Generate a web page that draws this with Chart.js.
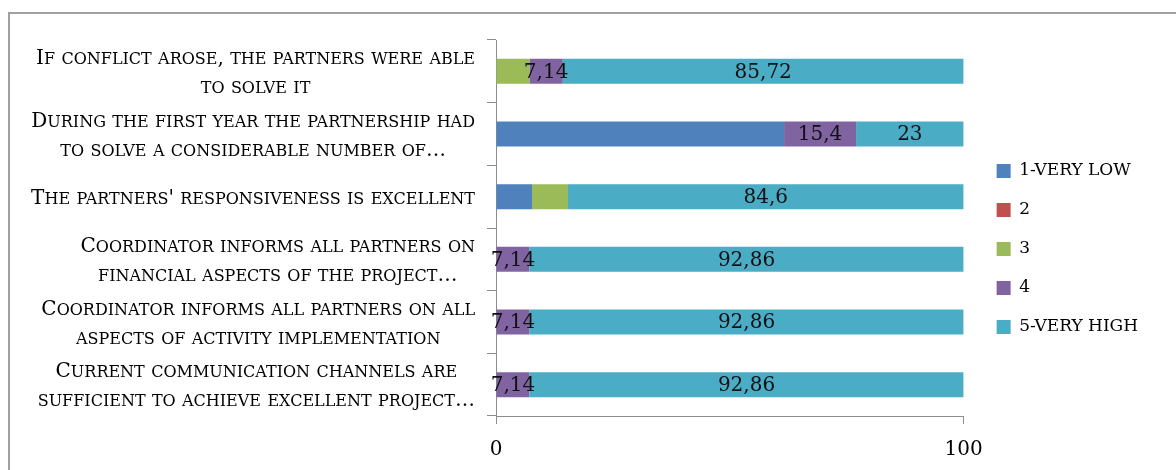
<!DOCTYPE html>
<html>
<head>
<meta charset="utf-8">
<script src="https://cdn.jsdelivr.net/npm/chart.js@4.4.1/dist/chart.umd.min.js"></script>
<style>
  html, body { margin: 0; padding: 0; background: #fff; }
</style>
</head>
<body>
<canvas id="likertChart" width="1176" height="470"></canvas>
<script>
// category labels, already split into the lines shown in the picture
const categories = [
  ['If conflict arose, the partners were able', 'to solve it'],
  ['During the first year the partnership had', 'to solve a considerable number of\u2026'],
  ["The partners' responsiveness is excellent"],
  ['Coordinator informs all partners on', 'financial aspects of the project\u2026'],
  ['Coordinator informs all partners on all', 'aspects of activity implementation'],
  ['Current communication channels are', 'sufficient to achieve excellent project\u2026']
];
const seriesNames = ['1-very low', '2', '3', '4', '5-very high'];
const veryLow = [0, 61.6, 7.7, 0, 0, 0];
const scoreTwo = [0, 0, 0, 0, 0, 0];
const scoreThree = [7.14, 0, 7.7, 0, 0, 0];
const scoreFour = [7.14, 15.4, 0, 7.14, 7.14, 7.14];
const veryHigh = [85.72, 23, 84.6, 92.86, 92.86, 92.86];
const xTicks = [0, 100];
// only these series get value labels in the original
const labelledSeries = [3, 4];

const colors = ['#4F81BD', '#C0504D', '#9BBB59', '#8064A2', '#4BACC6'];
const FONT = '"DejaVu Serif", serif';
const BIG = 20, SMALL = 16;
const AXIS_GREY = '#8c8c8c';

// small caps by hand: lowercase letters drawn as smaller capitals
function capsRuns(text) {
  const runs = [];
  for (const ch of text) {
    const small = ch !== ch.toUpperCase();
    const last = runs[runs.length - 1];
    if (last && last.small === small) last.t += small ? ch.toUpperCase() : ch;
    else runs.push({ small, t: small ? ch.toUpperCase() : ch });
  }
  return runs;
}
function capsWidth(ctx, text) {
  let w = 0;
  capsRuns(text).forEach(r => {
    ctx.font = (r.small ? SMALL : BIG) + 'px ' + FONT;
    w += ctx.measureText(r.t).width;
  });
  return w;
}
function drawCaps(ctx, text, x, baseline) {
  capsRuns(text).forEach(r => {
    ctx.font = (r.small ? SMALL : BIG) + 'px ' + FONT;
    ctx.fillText(r.t, x, baseline);
    x += ctx.measureText(r.t).width;
  });
}

const frame = {
  id: 'frame',
  beforeDraw(chart) {
    const { ctx } = chart;
    ctx.save();
    ctx.fillStyle = '#fff';
    ctx.fillRect(0, 0, chart.width, chart.height);
    ctx.strokeStyle = '#a0a0a0';
    ctx.lineWidth = 2;
    ctx.strokeRect(9, 13, chart.width + 20, chart.height + 20);
    ctx.restore();
  },
};

// y labels: each block right aligned, its lines centred on each other
const categoryText = {
  id: 'categoryText',
  afterDraw(chart) {
    const { ctx } = chart;
    const yScale = chart.scales.y;
    ctx.save();
    ctx.fillStyle = '#000';
    ctx.textAlign = 'left';
    ctx.textBaseline = 'alphabetic';
    const right = yScale.right - 21;
    const lineH = 29;
    categories.forEach((lines, i) => {
      const y = yScale.getPixelForTick(i);
      const widths = lines.map(l => capsWidth(ctx, l));
      const w = Math.max(...widths);
      const cx = right - w / 2;
      lines.forEach((l, j) => {
        const cy = y + (j - (lines.length - 1) / 2) * lineH;
        drawCaps(ctx, l, cx - widths[j] / 2, cy + 7);
      });
    });
    ctx.restore();
  },
};

const valueText = {
  id: 'valueText',
  afterDatasetsDraw(chart) {
    const { ctx } = chart;
    ctx.save();
    ctx.font = '20px ' + FONT;
    ctx.fillStyle = '#111';
    ctx.textAlign = 'center';
    ctx.textBaseline = 'middle';
    labelledSeries.forEach(di => {
      chart.getDatasetMeta(di).data.forEach((bar, i) => {
        const v = chart.data.datasets[di].data[i];
        if (!v) return;
        ctx.fillText(String(v).replace('.', ','), (bar.x + bar.base) / 2, bar.y + 1);
      });
    });
    ctx.restore();
  },
};

const seriesData = [veryLow, scoreTwo, scoreThree, scoreFour, veryHigh];

new Chart(document.getElementById('likertChart'), {
  type: 'bar',
  data: {
    labels: categories,
    datasets: seriesData.map((d, i) => ({
      label: seriesNames[i].toUpperCase(),
      data: d,
      backgroundColor: colors[i],
      borderWidth: 0,
      categoryPercentage: 1,
      barPercentage: 0.4,
    })),
  },
  options: {
    indexAxis: 'y',
    responsive: false,
    animation: false,
    layout: { padding: { top: 40, bottom: 12, left: 0, right: 28 } },
    scales: {
      x: {
        stacked: true,
        min: 0,
        max: 100,
        afterBuildTicks(scale) {
          scale.ticks = xTicks.map(v => ({ value: v }));
        },
        afterFit(scale) {
          scale.height = 42;
        },
        grid: { drawOnChartArea: false, tickLength: 8, color: AXIS_GREY },
        border: { color: AXIS_GREY, width: 1 },
        ticks: { color: '#000', padding: 14, font: { family: FONT, size: 20 } },
      },
      y: {
        stacked: true,
        afterFit(scale) {
          scale.width = 496;
        },
        grid: { drawOnChartArea: false, tickLength: 9, color: AXIS_GREY, offset: true },
        border: { color: AXIS_GREY, width: 1 },
        ticks: { display: false },
      },
      // empty spacer between plot and legend
      gap: {
        type: 'linear',
        axis: 'y',
        position: 'right',
        grid: { display: false },
        border: { display: false },
        ticks: { display: false },
        afterFit(scale) {
          scale.width = 11;
        },
      },
    },
    plugins: {
      legend: {
        position: 'right',
        align: 'center',
        labels: {
          boxWidth: 14,
          boxHeight: 14,
          padding: 22,
          color: '#000',
          font: { family: FONT, size: 17 },
        },
      },
      tooltip: { enabled: false },
    },
  },
  plugins: [frame, categoryText, valueText],
});
</script>
</body>
</html>
